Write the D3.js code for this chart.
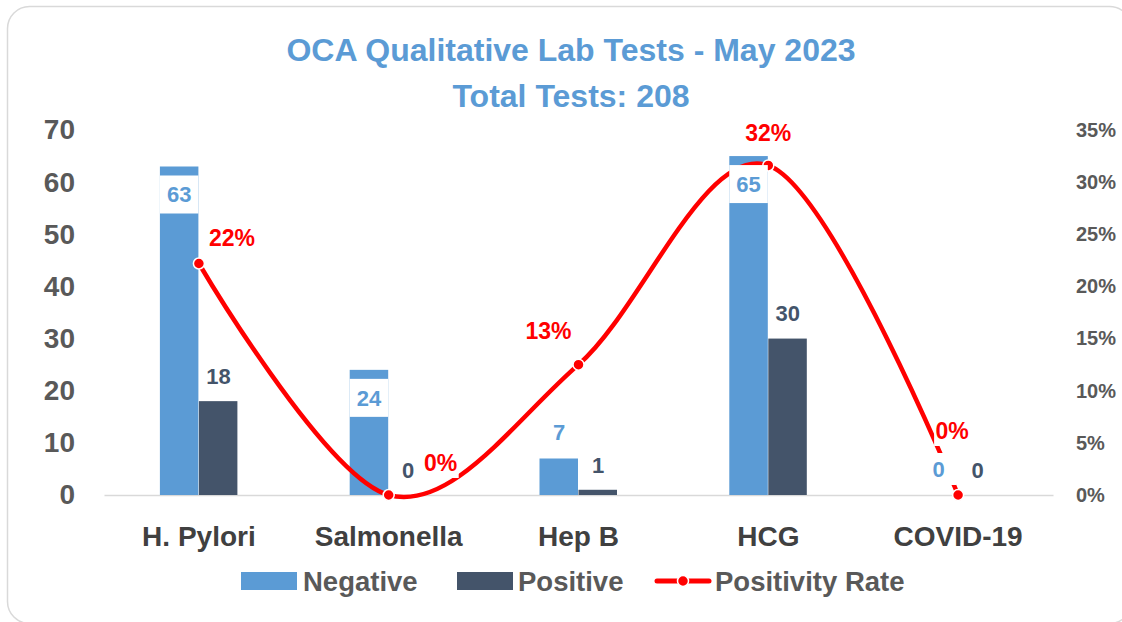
<!DOCTYPE html>
<html>
<head>
<meta charset="utf-8">
<script src="https://cdn.jsdelivr.net/npm/d3@7"></script>
<style>
  body { margin: 0; background: #fff; }
  svg text { font-family: "Liberation Sans", Arial, sans-serif; font-weight: bold; }
</style>
</head>
<body>
<svg id="chart" width="1122" height="622"></svg>
<script>
var categories = ['H. Pylori', 'Salmonella', 'Hep B', 'HCG', 'COVID-19']
var negative = [63, 24, 7, 65, 0]
var positive = [18, 0, 1, 30, 0]
var rate = [0.222, 0, 0.125, 0.316, 0]
var rateLabels = ['22%', '0%', '13%', '32%', '0%']
var leftTicks = [0, 10, 20, 30, 40, 50, 60, 70]
var rightTicks = [0, 0.05, 0.10, 0.15, 0.20, 0.25, 0.30, 0.35]

// hand placed offsets of the percent labels (from their point)
var rateLabelOffset = [[33, -26], [52, -32], [-30, -34], [0, -33], [-6, -64]]

var BLUE = '#5B9BD5', DARK = '#44546A', RED = '#FF0000', GREY = '#595959'

var svg = d3.select('#chart')

var cfg = {
  left: 104, right: 1053, top: 130, bottom: 495,
  barW: 39
}

// card border
svg.append('rect')
  .attr('x', 7.5).attr('y', 6.5)
  .attr('width', 1124).attr('height', 617)
  .attr('rx', 22).attr('ry', 22)
  .attr('fill', '#fff')
  .attr('stroke', '#d9d9d9')
  .attr('stroke-width', 1.5)

// title
svg.append('text')
  .attr('x', 571).attr('y', 61)
  .attr('text-anchor', 'middle')
  .attr('fill', BLUE)
  .style('font-size', '32px')
  .text('OCA Qualitative Lab Tests - May 2023')
svg.append('text')
  .attr('x', 571).attr('y', 107)
  .attr('text-anchor', 'middle')
  .attr('fill', BLUE)
  .style('font-size', '32px')
  .text('Total Tests: 208')

var x = d3.scaleBand()
  .domain(categories)
  .range([cfg.left, cfg.right])

var y = d3.scaleLinear()
  .domain([0, 70])
  .range([cfg.bottom, cfg.top])

var y2 = d3.scaleLinear()
  .domain([0, 0.35])
  .range([cfg.bottom, cfg.top])

function cx(d) { return x(d) + x.bandwidth() / 2 }

// left axis
var yAxis = d3.axisLeft(y).tickValues(leftTicks).tickSize(0).tickPadding(0)
var gl = svg.append('g')
  .attr('transform', d3Translate(75, 0))
  .call(yAxis)
gl.select('.domain').remove()
gl.selectAll('text')
  .attr('fill', GREY)
  .style('font-size', '28px')
  .style('font-family', '"Liberation Sans", Arial, sans-serif')
  .style('font-weight', 'bold')

// right axis
var y2Axis = d3.axisRight(y2).tickValues(rightTicks).tickSize(0).tickPadding(0)
  .tickFormat(d3.format('.0%'))
var gr = svg.append('g')
  .attr('transform', d3Translate(1076, 0))
  .call(y2Axis)
gr.select('.domain').remove()
gr.selectAll('text')
  .attr('fill', GREY)
  .style('font-size', '20px')
  .style('font-family', '"Liberation Sans", Arial, sans-serif')
  .style('font-weight', 'bold')

// category axis
var xAxis = d3.axisBottom(x).tickSize(0).tickPadding(0)
var gx = svg.append('g')
  .attr('transform', d3Translate(0, cfg.bottom))
  .call(xAxis)
gx.select('.domain')
  .attr('stroke', '#d9d9d9')
  .attr('stroke-width', 1.5)
gx.selectAll('text')
  .attr('y', 51)
  .attr('dy', 0)
  .attr('fill', '#404040')
  .style('font-size', '28px')
  .style('font-family', '"Liberation Sans", Arial, sans-serif')
  .style('font-weight', 'bold')

// bars
var bars = svg.append('g')
bars.selectAll('rect.neg')
  .data(negative)
  .enter()
  .append('rect')
  .attr('class', 'neg')
  .attr('x', function(d, i) { return cx(categories[i]) - cfg.barW })
  .attr('y', function(d) { return y(d) })
  .attr('width', cfg.barW - 0.5)
  .attr('height', function(d) { return y(0) - y(d) })
  .attr('fill', BLUE)

bars.selectAll('rect.pos')
  .data(positive)
  .enter()
  .append('rect')
  .attr('class', 'pos')
  .attr('x', function(d, i) { return cx(categories[i]) })
  .attr('y', function(d) { return y(d) })
  .attr('width', cfg.barW - 0.5)
  .attr('height', function(d) { return y(0) - y(d) })
  .attr('fill', DARK)

// positivity line
var line = d3.line()
  .x(function(d, i) { return cx(categories[i]) })
  .y(function(d) { return y2(d) })
  .curve(d3.curveCardinal.tension(0))

svg.append('path')
  .attr('d', line(rate))
  .attr('fill', 'none')
  .attr('stroke', RED)
  .attr('stroke-width', 4.5)
  .attr('stroke-linecap', 'round')

svg.selectAll('circle.pt')
  .data(rate)
  .enter()
  .append('circle')
  .attr('class', 'pt')
  .attr('cx', function(d, i) { return cx(categories[i]) })
  .attr('cy', function(d) { return y2(d) })
  .attr('r', 5.5)
  .attr('fill', RED)
  .attr('stroke', '#fff')
  .attr('stroke-width', 1.5)

// data labels with white boxes
function label(g, px, py, txt, color, size, boxW, boxH) {
  g.append('rect')
    .attr('x', px - boxW / 2).attr('y', py - boxH / 2)
    .attr('width', boxW).attr('height', boxH)
    .attr('fill', '#fff')
  g.append('text')
    .attr('x', px).attr('y', py)
    .attr('dy', '0.36em')
    .attr('text-anchor', 'middle')
    .attr('fill', color)
    .style('font-size', size + 'px')
    .text(txt)
}

var labels = svg.append('g')
negative.forEach(function(d, i) {
  var top = y(d), px = cx(categories[i]) - cfg.barW / 2
  var inside = (y(0) - top) > 60
  if (inside) {
    label(labels, px - 0.25, top + 28, d, BLUE, 22, cfg.barW - 0.5, 38)
  } else {
    label(labels, px, top - 26, d, BLUE, 22, 36, 32)
  }
})
positive.forEach(function(d, i) {
  var top = y(d), px = cx(categories[i]) + cfg.barW / 2
  label(labels, px, top - 25, d, DARK, 22, 36, 32)
})
rate.forEach(function(d, i) {
  var off = rateLabelOffset[i]
  label(labels, cx(categories[i]) + off[0], y2(d) + off[1], rateLabels[i], RED, 23,
    rateLabels[i].length * 15 + 6, 30)
})

// legend
var legend = svg.append('g')
legend.append('rect')
  .attr('x', 241).attr('y', 572).attr('width', 56).attr('height', 18)
  .attr('fill', BLUE)
legend.append('text')
  .attr('x', 303).attr('y', 581).attr('dy', '0.36em')
  .attr('fill', GREY).style('font-size', '27.5px')
  .text('Negative')
legend.append('rect')
  .attr('x', 457).attr('y', 572).attr('width', 56).attr('height', 18)
  .attr('fill', DARK)
legend.append('text')
  .attr('x', 518).attr('y', 581).attr('dy', '0.36em')
  .attr('fill', GREY).style('font-size', '27.5px')
  .text('Positive')
legend.append('line')
  .attr('x1', 657).attr('x2', 709).attr('y1', 581).attr('y2', 581)
  .attr('stroke', RED).attr('stroke-width', 5).attr('stroke-linecap', 'round')
legend.append('circle')
  .attr('cx', 683).attr('cy', 581).attr('r', 5.5)
  .attr('fill', RED).attr('stroke', '#fff').attr('stroke-width', 1.5)
legend.append('text')
  .attr('x', 715).attr('y', 581).attr('dy', '0.36em')
  .attr('fill', GREY).style('font-size', '27.5px')
  .text('Positivity Rate')

function d3Translate(tx, ty) {
  return 'translate(' + tx + ',' + ty + ')'
}
</script>
</body>
</html>
